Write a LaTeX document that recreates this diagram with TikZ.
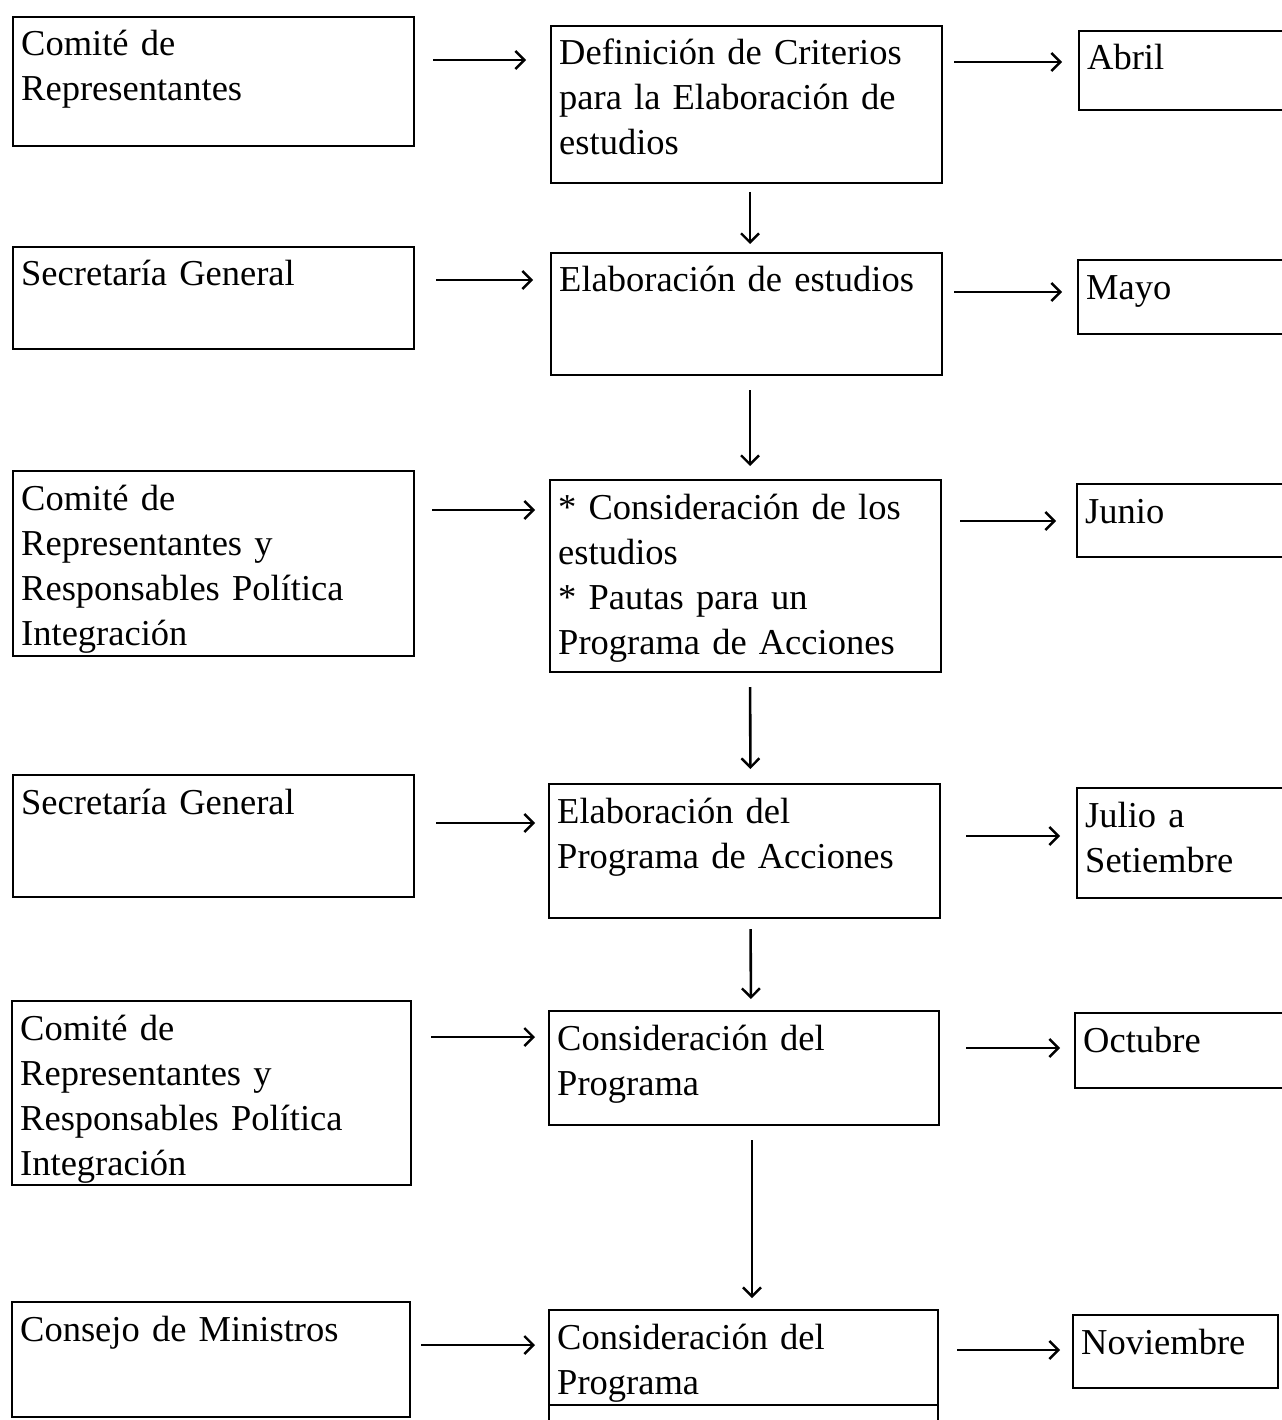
\documentclass[tikz,border=0pt]{standalone}
\usepackage{fontspec}
\setmainfont[WordSpace=0.85]{Liberation Serif}
\usetikzlibrary{arrows.meta}
\tikzset{
  box/.style={draw, rectangle, line width=2.4pt, inner sep=0pt, outer sep=0pt, anchor=north west},
  lbl/.style={anchor=base west, inner sep=0pt, align=left, text width=380pt, font=\fontsize{36.5}{45}\selectfont},
  arr/.style={line width=2.6pt, -{Straight Barb[length=9pt,width=18pt,line width=2.4pt]}},
}
% name, x1, y1, x2, y2, text
\newcommand\mybox[6]{%
  \node[box, minimum width={(#4-#2)*1pt}, minimum height={(#5-#3)*1pt}] (#1) at (#2,#3) {};
  \node[lbl] (#1t) at ([xshift=8pt,yshift=-39pt]#1.north west) {#6};
}
\begin{document}
\begin{tikzpicture}[x=1pt,y=-1pt]
\useasboundingbox[fill=white] (0,0) rectangle (1281,1420);
% left column
\mybox{L1}{13}{17}{414}{146}{Comité de\\Representantes}
\mybox{L2}{13}{247}{414}{349}{Secretaría General}
\mybox{L3}{13}{471}{414}{656}{Comité de\\Representantes y\\Responsables Política\\Integración}
\mybox{L4}{13}{775}{414}{897}{Secretaría General}
\mybox{L5}{12}{1001}{411}{1185}{Comité de\\Representantes y\\Responsables Política\\Integración}
\mybox{L6}{12}{1302}{410}{1417}{Consejo de Ministros}
% middle column
\mybox{M1}{551}{26}{942}{183}{Definición de Criterios\\para la Elaboración de\\estudios}
\mybox{M2}{551}{253}{942}{375}{Elaboración de estudios}
\mybox{M3}{550}{480}{941}{672}{{*} Consideración de los\\estudios\\{*} Pautas para un\\Programa de Acciones}
\mybox{M4}{549}{784}{940}{918}{Elaboración del\\Programa de Acciones}
\mybox{M5}{549}{1011}{939}{1125}{Consideración del\\Programa}
\mybox{M6}{549}{1310}{938}{1405}{Consideración del\\Programa}
\node[box, minimum width=389pt, minimum height=40pt] (M7) at (549,1405) {};
% right column
\mybox{R1}{1079}{31}{1284}{110}{Abril}
\mybox{R2}{1078}{260}{1284}{334}{Mayo}
\mybox{R3}{1077}{484}{1284}{557}{Junio}
\mybox{R4}{1077}{788}{1284}{898}{Julio a\\Setiembre}
\mybox{R5}{1075}{1013}{1284}{1088}{Octubre}
\mybox{R6}{1073}{1315}{1278}{1388}{Noviembre}
% left -> middle
\draw[arr, shorten <=19pt, shorten >=25pt] ([yshift=-43pt]L1.north east) -- ([yshift=-34pt]M1.north west);
\draw[arr, shorten <=22pt, shorten >=18pt] ([yshift=-33pt]L2.north east) -- ([yshift=-27pt]M2.north west);
\draw[arr, shorten <=18pt, shorten >=15pt] ([yshift=-39pt]L3.north east) -- ([yshift=-30pt]M3.north west);
\draw[arr, shorten <=22pt, shorten >=14pt] ([yshift=-48pt]L4.north east) -- ([yshift=-39pt]M4.north west);
\draw[arr, shorten <=20pt, shorten >=14pt] ([yshift=-36pt]L5.north east) -- ([yshift=-26pt]M5.north west);
\draw[arr, shorten <=11pt, shorten >=14pt] ([yshift=-43pt]L6.north east) -- ([yshift=-35pt]M6.north west);
% middle -> right
\draw[arr, shorten <=12pt, shorten >=17pt] ([yshift=-36pt]M1.north east) -- ([yshift=-31pt]R1.north west);
\draw[arr, shorten <=12pt, shorten >=16pt] ([yshift=-39pt]M2.north east) -- ([yshift=-32pt]R2.north west);
\draw[arr, shorten <=19pt, shorten >=21pt] ([yshift=-41pt]M3.north east) -- ([yshift=-37pt]R3.north west);
\draw[arr, shorten <=26pt, shorten >=17pt] ([yshift=-52pt]M4.north east) -- ([yshift=-48pt]R4.north west);
\draw[arr, shorten <=27pt, shorten >=15pt] ([yshift=-37pt]M5.north east) -- ([yshift=-35pt]R5.north west);
\draw[arr, shorten <=19pt, shorten >=13pt] ([yshift=-40pt]M6.north east) -- ([yshift=-35pt]R6.north west);
% vertical
\draw[arr, shorten <=9pt, shorten >=9pt] ([xshift=3.5pt]M1.south) -- ([xshift=3.5pt]M2.north);
\draw[arr, shorten <=15pt, shorten >=14pt] ([xshift=3.5pt]M2.south) -- ([xshift=4.5pt]M3.north);
\draw[arr, shorten <=15pt, shorten >=15pt] ([xshift=4.5pt]M3.south) -- ([xshift=6pt]M4.north);
\draw[arr, shorten <=11pt, shorten >=12pt] ([xshift=6pt]M4.south) -- ([xshift=7pt]M5.north);
\draw[arr, shorten <=15pt, shorten >=12pt] ([xshift=8pt]M5.south) -- ([xshift=8.5pt]M6.north);
\end{tikzpicture}
\end{document}
